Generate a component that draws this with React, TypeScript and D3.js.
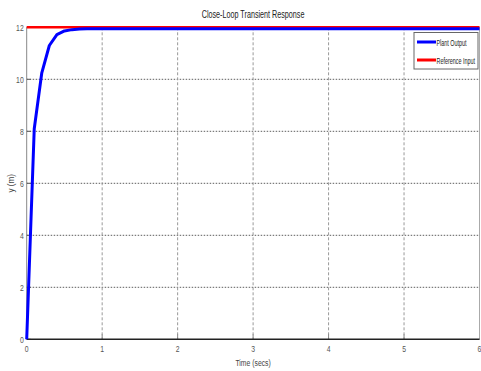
import React from "react";
import * as d3 from "d3";

// plant output samples (time in secs, y in m)
const timeSecs = [0, 0.1, 0.2, 0.3, 0.4, 0.5, 0.6, 0.7, 0.8, 0.9, 1, 2, 3, 4, 5, 6];
const plantOutput = [0, 8.1, 10.25, 11.3, 11.72, 11.86, 11.91, 11.93, 11.94, 11.94, 11.94, 11.94, 11.94, 11.94, 11.94, 11.94];
const referenceInput = [12, 12];
const referenceTime = [0, 6];

const xTicks = [0, 1, 2, 3, 4, 5, 6];
const yTicks = [0, 2, 4, 6, 8, 10, 12];
const legendLabels = ["Plant Output", "Reference Input"];
const legendColors = ["#0000ff", "#ff0000"];

const W = 481;
const H = 371;
const font = "'Liberation Sans', Arial, sans-serif";

// narrow text: squeeze glyphs horizontally (the original uses a condensed face)
const Narrow = ({ x, y, anchor = "start", size = 9.5, fill = "#333", s = 0.72, children }: any) => (
  <text
    transform={`translate(${x},${y}) scale(${s},1)`}
    textAnchor={anchor}
    fontFamily={font}
    fontSize={size}
    fill={fill}
  >
    {children}
  </text>
);

const App = () => {
  const left = 26.7;
  const right = 479.5;
  const top = 27.3;
  const bottom = 339.3;

  const x = d3.scaleLinear().domain([0, 6]).range([left, right]);
  const y = d3.scaleLinear().domain([0, 12]).range([bottom, top]);

  const line = d3
    .line<number>()
    .x((_, i) => x(timeSecs[i]))
    .y((d) => y(d));
  const refLine = d3
    .line<number>()
    .x((_, i) => x(referenceTime[i]))
    .y((d) => y(d));

  return (
    <div style={{ position: "fixed", left: 0, top: 0 }}>
      <svg width={W} height={H} style={{ display: "block", background: "#fff" }}>
        {/* title */}
        <Narrow x={(left + right) / 2} y={18} anchor="middle" size={10} fill="#222">
          Close-Loop Transient Response
        </Narrow>

        {/* grid */}
        {yTicks.slice(1, -1).map((t) => (
          <line key={"gy" + t} x1={left} x2={right} y1={y(t)} y2={y(t)} stroke="#333" strokeWidth={0.8} strokeDasharray="1.5,1.5" />
        ))}
        {xTicks.slice(1, -1).map((t) => (
          <line key={"gx" + t} x1={x(t)} x2={x(t)} y1={top} y2={bottom} stroke="#999" strokeWidth={1} strokeDasharray="3,2" />
        ))}

        {/* ticks */}
        {xTicks.map((t) => (
          <line key={"tx" + t} x1={x(t)} x2={x(t)} y1={bottom} y2={bottom - 5} stroke="#888" strokeWidth={1} />
        ))}
        {yTicks.map((t) => (
          <line key={"ty" + t} x1={left} x2={left + 4} y1={y(t)} y2={y(t)} stroke="#555" strokeWidth={1} />
        ))}

        {/* axes box */}
        <line x1={left} x2={left} y1={top} y2={bottom} stroke="#888" strokeWidth={1} />
        <line x1={right} x2={right} y1={top} y2={bottom} stroke="#aaa" strokeWidth={1} />
        <line x1={left} x2={right} y1={bottom} y2={bottom} stroke="#222" strokeWidth={1.5} />

        {/* tick labels */}
        {xTicks.map((t) => (
          <Narrow key={"lx" + t} x={x(t)} y={bottom + 13} anchor="middle" fill="#555">
            {t}
          </Narrow>
        ))}
        {yTicks.map((t) => (
          <Narrow key={"ly" + t} x={left - 3} y={y(t) + 3.5} anchor="end" fill="#555">
            {t}
          </Narrow>
        ))}

        {/* axis labels */}
        <Narrow x={(left + right) / 2} y={366} anchor="middle" fill="#444">
          Time (secs)
        </Narrow>
        <text
          transform={`translate(14,${(top + bottom) / 2}) rotate(-90) scale(0.85,1)`}
          textAnchor="middle"
          fontFamily={font}
          fontSize={9.5}
          fill="#444"
        >
          y  (m)
        </text>

        {/* series */}
        <path d={refLine(referenceInput) || ""} fill="none" stroke={legendColors[1]} strokeWidth={2.5} />
        <path d={line(plantOutput) || ""} fill="none" stroke={legendColors[0]} strokeWidth={3} strokeLinejoin="round" />

        {/* legend */}
        <rect x={414} y={32.5} width={64} height={36.5} fill="#fff" stroke="#666" strokeWidth={1} />
        {legendLabels.map((lbl, i) => (
          <g key={lbl}>
            <line x1={417} x2={436} y1={42 + i * 18} y2={42 + i * 18} stroke={legendColors[i]} strokeWidth={3} />
            <Narrow x={436.5} y={45.5 + i * 18} size={9.5} s={0.57} fill="#222">
              {lbl}
            </Narrow>
          </g>
        ))}
      </svg>
    </div>
  );
};

export default App;
